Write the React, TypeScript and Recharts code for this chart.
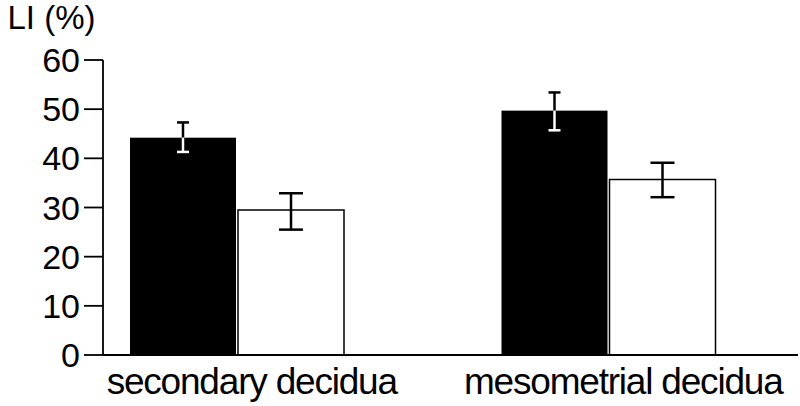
import { BarChart, Bar, XAxis, YAxis, ErrorBar } from "recharts";

const categories = ["secondary decidua", "mesometrial decidua"];
const blackValues = [44.2, 49.7];
const blackErrLow = [2.9, 4.0];
const blackErrHigh = [3.1, 3.7];
const whiteValues = [29.5, 35.7];
const whiteErrLow = [4.0, 3.6];
const whiteErrHigh = [3.4, 3.4];
const yTicks = [0, 10, 20, 30, 40, 50, 60];

const data = categories.map((name, i) => ({
  name,
  black: blackValues[i],
  blackErr: [blackErrLow[i], blackErrHigh[i]],
  white: whiteValues[i],
  whiteErr: [whiteErrLow[i], whiteErrHigh[i]],
}));

const font = '"Liberation Sans", Arial, Helvetica, sans-serif';

// black bar with its error bar: black above the bar top, white inside the bar
const BlackBar = (props: any) => {
  const { x, y, width, height, payload } = props;
  const k = height / payload.black;
  const cx = x + width / 2;
  const hi = y - payload.blackErr[1] * k;
  const lo = y + payload.blackErr[0] * k;
  const cap = 6;
  return (
    <g>
      <rect x={x} y={y} width={width} height={height} fill="#000" />
      <line x1={cx} x2={cx} y1={hi} y2={y} stroke="#000" strokeWidth={2.5} />
      <line x1={cx - cap} x2={cx + cap} y1={hi} y2={hi} stroke="#000" strokeWidth={2.5} />
      <line x1={cx} x2={cx} y1={y} y2={lo} stroke="#fff" strokeWidth={2.5} />
      <line x1={cx - cap} x2={cx + cap} y1={lo} y2={lo} stroke="#fff" strokeWidth={2.5} />
    </g>
  );
};

export default function App() {
  return (
    <div style={{ position: "absolute", left: 0, top: 0, background: "#fff" }}>
      <BarChart
        width={800}
        height={406}
        data={data}
        margin={{ top: 60, right: 2, bottom: 0, left: 0 }}
        barSize={106}
        barGap={2}
      >
        <XAxis
          dataKey="name"
          height={51}
          padding={{ left: -52, right: 4 }}
          axisLine={{ stroke: "#000", strokeWidth: 1.8 }}
          tickLine={false}
          tickSize={0}
          tickMargin={13}
          tick={{ fontSize: 37, fill: "#000", fontFamily: font, dx: 15, letterSpacing: -1.2 }}
        />
        <YAxis
          width={103}
          domain={[0, 60]}
          ticks={yTicks}
          interval={0}
          axisLine={{ stroke: "#000", strokeWidth: 1.8 }}
          tickLine={{ stroke: "#000", strokeWidth: 1.8 }}
          tickSize={19}
          tickMargin={4}
          tick={{ fontSize: 34, fill: "#000", fontFamily: font }}
          label={{
            value: "LI (%)",
            position: "top",
            offset: 31,
            fontSize: 33,
            fill: "#000",
            fontFamily: font,
          }}
        />
        <Bar dataKey="black" fill="#000" shape={BlackBar} isAnimationActive={false} />
        <Bar dataKey="white" fill="#fff" stroke="#000" strokeWidth={1.5} isAnimationActive={false}>
          <ErrorBar dataKey="whiteErr" width={12} stroke="#000" strokeWidth={2.5} />
        </Bar>
      </BarChart>
    </div>
  );
}
